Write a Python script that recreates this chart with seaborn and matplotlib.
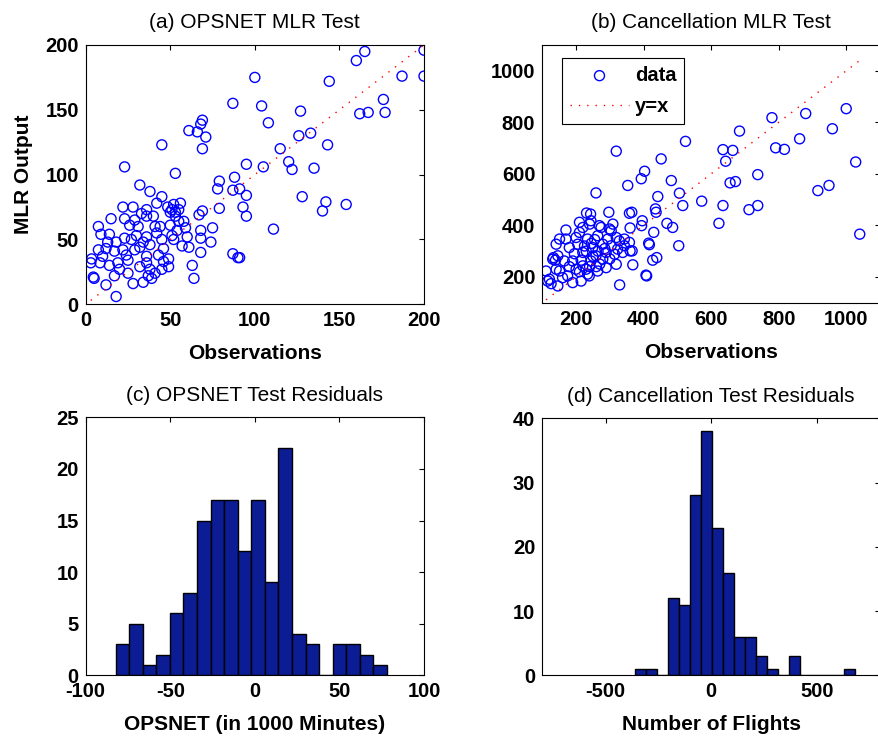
import numpy as np
import pandas as pd
import matplotlib
matplotlib.use("Agg")
import matplotlib.pyplot as plt
import seaborn as sns

# (a) OPSNET MLR test: observations vs MLR output
opsnet_obs = [200, 200, 187, 165, 160, 144, 176, 177, 162, 167,
              100, 87, 104, 108, 127, 126, 133, 143, 115, 120, 122, 135, 105, 95, 128, 154, 142, 140, 111,
              88, 87, 91, 95, 93, 95, 87, 90, 91,
              79, 78, 79, 75, 74, 68, 68, 68, 69, 67,
              61, 66, 68, 69, 71, 69,
              45, 23, 53, 32, 38, 45,
              63, 64, 57, 61, 18, 3, 5, 12, 7.5, 14, 28, 34,
              48.5, 52, 55, 50, 56, 53, 50, 55, 58, 59, 54, 60, 51, 52, 51, 53,
              9, 22, 28, 33, 40, 23, 29, 26, 31, 41, 36, 42, 45, 23, 27, 18, 13, 12, 7.5, 10,
              3.5, 8.5, 17, 22, 29, 36, 19, 25, 32, 38, 41, 37, 20, 25, 4.5, 46, 49, 46, 49, 43,
              36, 45, 39, 17, 32, 36, 42, 15, 36, 30, 34, 24, 14, 44, 38]
opsnet_mlr = [196, 176, 176, 195, 188, 172, 158, 148, 147, 148,
              175, 155, 153, 140, 149, 130, 132, 123, 120, 110, 104, 105, 106, 108, 83, 77, 79, 72, 58,
              98, 88, 89, 84, 75, 68, 39, 36, 36,
              95, 89, 74, 59, 48, 57, 51, 40, 72, 69,
              134, 133, 139, 142, 129, 120,
              123, 106, 101, 92, 87, 83,
              30, 20, 45, 44, 6, 32, 20, 15, 60, 54, 16, 17,
              75, 77, 73, 71, 78, 68, 61, 64, 64, 59, 57, 52, 53, 50, 73, 71,
              54, 75, 75, 70, 68, 66, 65, 61, 60, 60, 52, 55, 50, 51, 50, 48, 48, 43, 42, 37,
              35, 32, 41, 42, 42, 37, 32, 34, 29, 27, 24, 22, 27, 24, 21, 33, 29, 43, 35, 38,
              32, 27, 20, 22, 44, 73, 78, 66, 68, 53, 48, 38, 30, 60, 46]

# (b) Cancellation MLR test
canc_obs = [1000, 1040, 1028, 959, 949, 916, 880, 862, 817, 791, 780, 738, 738, 712, 684, 664, 672,
            656, 635, 643, 635, 623, 572, 524, 506, 516, 504, 482, 486, 469, 452, 442, 435, 437, 430,
            403, 393, 396, 394, 415, 417, 409, 427, 439, 319, 353, 259, 297, 358, 365, 360, 243, 329,
            368, 366, 343, 170, 151, 141, 111, 121, 126, 133, 139, 146,
            231, 116, 151, 131, 146, 180, 200, 210, 240, 274, 304, 328, 358, 360, 338, 314, 319, 407,
            289, 264, 239, 215, 190, 175, 220, 244, 190, 220, 249, 279, 289, 259, 234, 264, 294, 319,
            304, 205, 165, 141, 160, 200, 279, 323, 343, 210, 170, 234, 269, 299, 309, 244, 220,
            230, 250, 215, 240, 265, 285, 195, 225, 255, 210, 270, 300, 180, 245, 230, 260]
canc_mlr = [853, 366, 646, 775, 555, 535, 834, 736, 695, 701, 818, 597, 477, 461, 766, 691, 570,
            565, 694, 649, 477, 408, 494, 726, 525, 477, 321, 574, 392, 408, 658, 512, 464, 451, 373,
            610, 581, 418, 399, 331, 325, 204, 265, 275, 688, 555, 526, 451, 447, 451, 390, 444, 169,
            247, 301, 347, 382, 347, 327, 223, 191, 174, 275, 265, 165,
            448, 184, 223, 269, 282, 314, 353, 373, 405, 392, 379, 340, 334, 301, 295, 288, 249, 207,
            236, 223, 204, 184, 178, 204, 243, 262, 262, 295, 314, 327, 295, 282, 347, 360, 347, 353,
            321, 327, 262, 230, 197, 230, 269, 308, 321, 412, 347, 211, 399, 386, 405, 418, 392,
            300, 280, 265, 240, 300, 310, 290, 320, 345, 220, 250, 270, 240, 330, 230, 240]

# (c) OPSNET test residuals (bin centres, counts)
opsnet_res_bins = [-78.3, -70.3, -62.2, -54.2, -46.2, -38.2, -30.2, -22.2, -14.1, -6.1,
                   1.9, 9.9, 17.9, 26.0, 34.0, 42.0, 50.0, 58.0, 66.1, 74.1]
opsnet_res_counts = [3, 5, 1, 2, 6, 8, 15, 17, 17, 12, 17, 9, 22, 4, 3, 0, 3, 3, 2, 1]

# (d) Cancellation test residuals
canc_res_bins = [-333, -281, -229, -177, -125, -73, -21, 31, 83, 135,
                 187, 239, 291, 343, 395, 447, 499, 551, 603, 655]
canc_res_counts = [1, 1, 0, 12, 11, 28, 38, 23, 16, 6, 6, 3, 1, 0, 3, 0, 0, 0, 0, 1]

sns.set_theme(style="white")
plt.rcParams["font.family"] = ["Liberation Sans", "DejaVu Sans"]
plt.rcParams["axes.unicode_minus"] = False
plt.rcParams["text.color"] = "black"
plt.rcParams["axes.labelcolor"] = "black"
plt.rcParams["xtick.color"] = "black"
plt.rcParams["ytick.color"] = "black"

BAR = "#0b1c94"
W, H = 879, 736


def box(px_left, px_top, px_right, px_bottom):
    return [px_left / W, 1 - px_bottom / H, (px_right - px_left) / W, (px_bottom - px_top) / H]


def style(ax):
    for s in ax.spines.values():
        s.set_visible(True)
        s.set_color("black")
        s.set_linewidth(0.8)
    ax.tick_params(direction="in", length=3.5, width=0.8, top=True, right=True,
                   labelsize=14.5, pad=5, colors="black")
    for lab in ax.get_xticklabels() + ax.get_yticklabels():
        lab.set_fontweight("bold")


fig = plt.figure(figsize=(W / 100, H / 100), dpi=100)
ax_a = fig.add_axes(box(85.7, 45, 424, 304.3))
ax_b = fig.add_axes(box(542.3, 45, 880, 302.7))
ax_c = fig.add_axes(box(85.7, 417.3, 424, 675.3))
ax_d = fig.add_axes(box(542.3, 418.3, 880, 675.3))

# scatter panels
for ax, obs, mlr, lims, ticks, title in [
    (ax_a, opsnet_obs, opsnet_mlr, (0, 200), [0, 50, 100, 150, 200], "(a) OPSNET MLR Test"),
    (ax_b, canc_obs, canc_mlr, (100, 1100), [200, 400, 600, 800, 1000], "(b) Cancellation MLR Test"),
]:
    df = pd.DataFrame({"obs": obs, "mlr": mlr})
    sns.scatterplot(data=df, x="obs", y="mlr", ax=ax, marker="o", s=52,
                    facecolors="none", edgecolor="blue", linewidth=1.0, label="data")
    ends = [min(obs), max(obs)]
    sns.lineplot(x=ends, y=ends, ax=ax, color="red", linewidth=1.0,
                 linestyle=(0, (1, 5)), label="y=x")
    ax.set_xlim(*lims)
    ax.set_ylim(*lims)
    ax.set_xticks(ticks)
    ax.set_yticks(ticks)
    ax.set_title(title, fontsize=15, pad=12, color="black")
    ax.set_xlabel("Observations", fontsize=15, fontweight="bold", labelpad=10)
    ax.set_ylabel("")
    style(ax)

ax_a.set_ylabel("MLR Output", fontsize=15, fontweight="bold", labelpad=9)
ax_a.get_legend().remove()
leg = ax_b.legend(loc="upper left", bbox_to_anchor=(0.059, 0.95), fancybox=False,
                  edgecolor="black", framealpha=1, prop={"weight": "bold", "size": 14.5},
                  handlelength=2.9, handletextpad=0.3, labelspacing=0.6, borderpad=0.4,
                  borderaxespad=0)
leg.get_frame().set_linewidth(0.8)
for t in leg.get_texts():
    t.set_color("black")

# histogram panels
for ax, centers, counts, xlim, xticks, ylim, yticks, title, xlabel in [
    (ax_c, opsnet_res_bins, opsnet_res_counts, (-100, 100), [-100, -50, 0, 50, 100],
     (0, 25), [0, 5, 10, 15, 20, 25], "(c) OPSNET Test Residuals", "OPSNET (in 1000 Minutes)"),
    (ax_d, canc_res_bins, canc_res_counts, (-800, 800), [-500, 0, 500],
     (0, 40), [0, 10, 20, 30, 40], "(d) Cancellation Test Residuals", "Number of Flights"),
]:
    w = centers[1] - centers[0]
    sns.histplot(x=centers, weights=counts, bins=len(centers),
                 binrange=(centers[0] - w / 2, centers[-1] + w / 2), ax=ax,
                 color=BAR, edgecolor="black", linewidth=1.0, alpha=1)
    ax.set_xlim(*xlim)
    ax.set_ylim(*ylim)
    ax.set_xticks(xticks)
    ax.set_yticks(yticks)
    ax.set_title(title, fontsize=15, pad=12, color="black")
    ax.set_xlabel(xlabel, fontsize=15, fontweight="bold", labelpad=10)
    ax.set_ylabel("")
    style(ax)

fig.savefig("out.png", dpi=100)
